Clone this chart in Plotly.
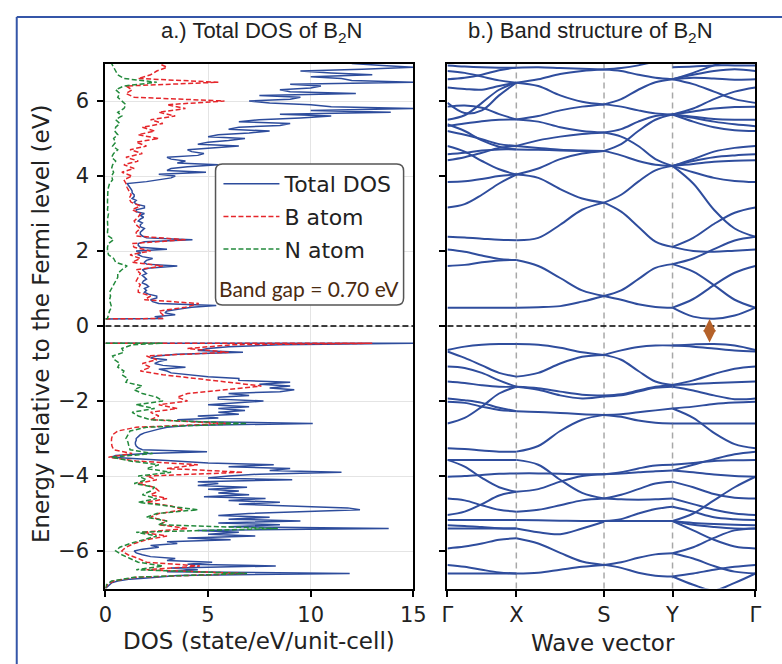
import numpy as np
import plotly.graph_objects as go

# ---------------- DOS data (state/eV/unit-cell) ----------------
# Total DOS, valence band: -7.00 ... -0.50 eV (step 0.05)
TOTAL_VB = [0.0, 0.1, 0.2, 0.3, 0.6, 1.2, 2.5, 3.5, 11.9, 3.0,
            4.5, 3.2, 8.3, 4.0, 5.2, 3.0, 3.4, 2.2, 1.8, 1.5,
            1.4, 1.8, 2.6, 2.2, 3.5, 3.0, 6.1, 4.0, 7.3, 5.0,
            6.5, 4.5, 13.8, 6.0, 8.5, 5.5, 9.5, 6.0, 8.0, 5.5,
            7.0, 9.5, 12.4, 11.8, 9.4, 6.5, 8.5, 6.0, 7.8, 4.8,
            7.0, 5.5, 6.5, 5.0, 6.9, 4.5, 5.5, 4.5, 9.1, 5.0,
            6.0, 7.5, 11.5, 8.0, 9.0, 6.0, 8.2, 5.0, 3.4, 1.5,
            0.3, 0.5, 2.0, 4.95, 1.8, 1.6, 1.5, 1.46, 1.46, 1.5,
            1.5, 1.6, 1.7, 1.9, 2.2, 2.6, 3.0, 4.0, 10.1, 4.5,
            3.5, 5.5, 4.5, 6.5, 5.5, 6.8, 5.5, 7.0, 5.0, 6.5,
            7.7, 5.5, 5.5, 7.0, 6.0, 8.5, 9.2, 8.0, 9.0, 7.5,
            9.0, 6.5, 6.5, 5.0, 4.0, 3.2, 3.0, 2.6, 3.9, 2.8,
            2.4, 2.6, 3.0, 2.2, 2.5, 3.5, 6.7, 4.5, 5.0, 6.0,
            8.5]
# B and N projections, valence band: -7.0 ... -0.5 eV (step 0.1)
B_VB = [0.0, 0.1, 0.4, 1.5, 6.8, 2.0, 4.6, 2.0, 1.6, 1.1,
        0.8, 1.0, 1.4, 2.0, 3.0, 1.8, 4.0, 2.6, 3.0, 2.2,
        2.6, 3.8, 3.2, 2.0, 3.0, 2.2, 2.6, 2.4, 1.6, 2.5,
        2.0, 6.7, 3.0, 4.5, 1.5, 0.15, 1.3, 0.4, 0.32, 0.29,
        0.3, 0.35, 0.6, 1.5, 6.0, 2.2, 2.6, 2.2, 3.5, 2.6,
        4.0, 3.5, 4.0, 6.0, 7.6, 6.0, 4.5, 2.8, 1.7, 2.2,
        1.8, 2.5, 2.0, 6.0, 4.0, 6.2]
N_VB = [0.0, 0.05, 0.3, 1.4, 6.9, 1.5, 2.8, 1.6, 1.2, 0.8,
        0.5, 0.7, 1.2, 1.8, 2.5, 1.5, 8.4, 2.6, 3.0, 2.0,
        2.5, 4.5, 3.0, 1.6, 2.5, 1.8, 2.2, 2.4, 1.4, 2.0,
        1.6, 3.2, 2.0, 2.6, 1.2, 0.3, 2.3, 1.2, 1.14, 1.1,
        1.0, 1.1, 1.2, 2.0, 6.9, 2.2, 1.6, 1.3, 2.4, 1.5,
        2.8, 2.5, 1.8, 1.4, 1.8, 1.0, 1.1, 0.8, 0.9, 0.6,
        0.7, 0.45, 0.35, 0.9, 0.8, 1.3]
VB_EDGE = -0.46
TOTAL_VB_EDGE, B_VB_EDGE, N_VB_EDGE = 15.0, 13.0, 2.8

# Total DOS, conduction band: 0.20 ... 7.00 eV (step 0.05)
TOTAL_CB = [2.8, 2.4, 3.4, 2.9, 3.0, 3.6, 4.2, 5.4, 2.6, 2.3,
            2.2, 2.5, 2.5, 2.1, 1.9, 2.0, 1.9, 2.1, 2.0, 1.8,
            1.85, 2.0, 1.9, 1.8, 2.0, 1.9, 1.8, 2.2, 3.5, 2.0,
            1.9, 2.0, 2.3, 1.8, 1.6, 1.7, 1.5, 3.0, 1.7, 1.6,
            1.6, 1.9, 4.24, 2.0, 1.8, 1.7, 1.7, 1.8, 1.9, 1.7,
            1.7, 1.8, 1.6, 1.7, 1.86, 1.7, 1.9, 1.5, 1.5, 1.9,
            1.9, 1.5, 1.4, 1.5, 1.3, 1.4, 1.4, 1.3, 1.3, 1.25,
            1.2, 1.15, 1.06, 2.0, 2.7, 3.2, 3.4, 2.6, 4.9, 3.0,
            3.2, 4.0, 5.5, 3.5, 3.9, 3.2, 3.0, 4.5, 4.8, 4.2,
            4.0, 5.5, 6.5, 4.5, 5.0, 6.0, 6.8, 5.0, 5.5, 7.0,
            8.0, 6.0, 6.5, 8.5, 9.0, 6.5, 7.5, 9.5, 11.0, 8.5,
            13.9, 10.0, 15.0, 11.0, 10.0, 8.0, 7.0, 9.0, 9.5, 7.5,
            12.2, 9.0, 8.5, 10.0, 10.5, 9.0, 15.0, 12.0, 11.5, 10.0,
            13.0, 11.0, 9.5, 12.5, 15.0, 13.5, 12.0]
# B and N projections, conduction band: 0.2 ... 7.0 eV (step 0.1)
B_CB = [2.8, 2.8, 2.6, 3.9, 4.55, 1.9, 2.2, 1.6, 1.6, 1.7,
        1.5, 1.6, 1.7, 1.5, 2.8, 1.3, 1.7, 1.2, 2.2, 1.4,
        1.3, 3.9, 1.5, 1.5, 1.7, 1.5, 1.4, 1.6, 1.7, 1.3,
        1.7, 1.25, 1.15, 1.25, 1.15, 1.05, 1.0, 0.9, 1.3, 0.8,
        1.4, 0.9, 1.6, 1.0, 1.8, 1.2, 2.0, 1.5, 2.6, 1.6,
        2.4, 1.8, 2.8, 2.2, 3.4, 2.6, 3.9, 3.0, 5.8, 1.4,
        1.0, 1.3, 1.0, 5.5, 1.6, 2.2, 2.5, 3.0, 2.6]
N_CB = [0.1, 0.15, 0.2, 0.3, 0.25, 0.2, 0.25, 0.2, 0.3, 0.4,
        0.5, 0.6, 0.6, 0.8, 1.06, 0.5, 0.4, 0.15, 0.1, 0.1,
        0.15, 0.4, 0.15, 0.1, 0.12, 0.1, 0.1, 0.12, 0.15, 0.1,
        0.12, 0.1, 0.1, 0.1, 0.12, 0.15, 0.2, 0.35, 0.3, 0.4,
        0.3, 0.35, 0.5, 0.3, 0.4, 0.6, 0.35, 0.5, 0.4, 0.6,
        0.45, 0.5, 0.7, 0.5, 0.8, 0.6, 0.9, 1.0, 0.8, 0.6,
        0.7, 0.5, 0.9, 2.5, 0.9, 0.6, 0.5, 0.4, 0.3]
CB_EDGE = 0.19

# ---------------- band structure data (eV) ----------------
K_POINTS = [0.0, 0.707, 1.607, 2.310, 3.160]
K_LABELS = ["Γ", "X", "S", "Y", "Γ"]

BANDS_GX = [
    [0.49, 0.49, 0.49], [1.60, 1.63, 1.70, 1.75, 1.76], [2.04, 1.98, 1.88, 1.79, 1.76],
    [2.38, 2.36, 2.33, 2.30, 2.29], [3.16, 3.25, 3.50, 3.80, 4.04], [3.84, 3.86, 3.92, 4.00, 4.04],
    [4.80, 4.65, 4.40, 4.18, 4.04], [4.58, 4.62, 4.68, 4.71, 4.71], [4.42, 4.50, 4.62, 4.75, 4.80],
    [5.20, 5.10, 4.98, 4.85, 4.80], [5.33, 5.40, 5.46, 5.50, 5.51], [5.38, 5.20, 4.95, 4.78, 4.71],
    [5.50, 5.62, 5.95, 6.30, 6.49], [5.95, 5.68, 5.75, 6.15, 6.49], [5.85, 5.88, 5.82, 5.65, 5.51],
    [6.36, 6.32, 6.30, 6.40, 6.49], [6.58, 6.62, 6.70, 6.82, 6.89], [6.80, 6.75, 6.65, 6.55, 6.49],
    [6.95, 6.92, 6.90, 6.89, 6.89],
    [-0.64, -0.55, -0.50, -0.48, -0.48], [-0.68, -0.85, -1.05, -1.25, -1.35],
    [-1.08, -1.12, -1.25, -1.45, -1.62], [-1.48, -1.52, -1.58, -1.62, -1.62],
    [-1.93, -1.98, -2.05, -2.18, -2.27], [-2.60, -2.45, -2.15, -1.80, -1.62],
    [-2.02, -2.05, -2.15, -2.24, -2.27], [-3.26, -3.28, -3.32, -3.35, -3.35],
    [-3.57, -3.57, -3.57], [-3.57, -3.75, -4.05, -4.30, -4.42], [-4.02, -4.00, -3.97, -3.94, -3.93],
    [-4.60, -4.65, -4.78, -4.90, -4.95], [-5.04, -4.95, -4.75, -4.52, -4.42], [-5.17, -5.17, -5.17],
    [-5.31, -5.33, -5.36, -5.39, -5.40], [-5.40, -5.40, -5.40], [-5.93, -5.88, -5.80, -5.70, -5.66],
    [-6.37, -6.42, -6.50, -6.57, -6.60], [-6.60, -6.60, -6.60],
]
BANDS_XS = [
    [0.49, 0.50, 0.53, 0.65, 0.80], [1.76, 1.60, 1.28, 0.95, 0.80], [2.29, 2.35, 2.70, 3.10, 3.29],
    [4.04, 3.95, 3.65, 3.40, 3.29], [4.71, 4.70, 4.68, 4.67, 4.67], [4.80, 4.95, 5.05, 5.12, 5.16],
    [4.80, 4.75, 4.70, 4.68, 4.67], [5.51, 5.45, 5.30, 5.20, 5.16], [5.51, 5.60, 5.75, 5.85, 5.91],
    [6.49, 6.40, 6.15, 5.98, 5.91], [6.49, 6.58, 6.72, 6.80, 6.84], [6.89, 6.90, 6.88, 6.86, 6.84],
    [4.04, 4.20, 4.45, 4.60, 4.67],
    [-0.48, -0.50, -0.58, -0.70, -0.77], [-1.35, -1.25, -1.00, -0.82, -0.77],
    [-1.62, -1.66, -1.75, -1.83, -1.85], [-1.62, -1.70, -1.85, -1.93, -1.88],
    [-2.27, -2.29, -2.32, -2.35, -2.37], [-3.35, -3.20, -2.80, -2.50, -2.37],
    [-3.57, -3.70, -4.10, -4.45, -4.60], [-3.93, -3.93, -3.94, -3.95, -3.95],
    [-4.42, -4.35, -4.15, -4.00, -3.95], [-4.95, -4.90, -4.78, -4.65, -4.60],
    [-5.17, -5.18, -5.19, -5.20, -5.20], [-5.40, -5.50, -5.55, -5.40, -5.22],
    [-5.66, -5.80, -6.05, -6.28, -6.37], [-6.60, -6.58, -6.50, -6.42, -6.37],
]
BANDS_SY = [
    [0.80, 0.70, 0.58, 0.51, 0.49], [0.80, 0.95, 1.25, 1.55, 1.65], [3.29, 3.05, 2.65, 2.25, 2.11],
    [3.29, 3.50, 3.85, 4.15, 4.27], [4.67, 4.55, 4.40, 4.30, 4.27], [4.67, 4.85, 5.20, 5.50, 5.64],
    [5.16, 5.05, 4.80, 4.45, 4.27], [5.16, 5.25, 5.45, 5.60, 5.64], [5.91, 5.85, 5.75, 5.67, 5.64],
    [5.91, 6.05, 6.30, 6.50, 6.58], [6.84, 6.80, 6.70, 6.62, 6.58], [6.84, 6.88, 6.95, 7.05, 7.10],
    [-0.77, -0.65, -0.56, -0.52, -0.52], [-0.77, -0.90, -1.20, -1.48, -1.57],
    [-1.85, -1.82, -1.72, -1.62, -1.57], [-1.88, -1.85, -1.75, -1.65, -1.62],
    [-2.37, -2.35, -2.30, -2.25, -2.20], [-2.37, -2.42, -2.52, -2.58, -2.60],
    [-3.95, -3.93, -3.90, -3.87, -3.85], [-3.95, -3.90, -3.80, -3.72, -3.70],
    [-4.60, -4.62, -4.63, -4.62, -4.60], [-4.60, -4.50, -4.35, -4.20, -4.15],
    [-5.20, -5.20, -5.20], [-5.20, -5.15, -5.00, -4.88, -4.82],
    [-6.37, -6.30, -6.18, -6.09, -6.06], [-6.37, -6.45, -6.58, -6.66, -6.68],
]
BANDS_YG = [
    [0.49, 0.25, 0.195, 0.28, 0.49], [0.49, 0.72, 1.09, 1.42, 1.60], [1.65, 1.45, 1.09, 0.70, 0.49],
    [1.65, 1.80, 2.05, 2.28, 2.38], [2.11, 2.00, 1.98, 2.01, 2.04], [2.11, 2.35, 2.72, 3.02, 3.16],
    [4.27, 3.80, 3.10, 2.60, 2.38], [4.27, 4.45, 4.65, 4.75, 4.80], [4.27, 4.40, 4.50, 4.55, 4.58],
    [4.27, 4.32, 4.38, 4.41, 4.42], [4.27, 4.10, 3.95, 3.87, 3.84],
    [5.64, 5.45, 5.30, 5.22, 5.20], [5.64, 5.55, 5.45, 5.38, 5.33], [5.64, 5.80, 6.05, 6.25, 6.36],
    [5.64, 5.72, 5.80, 5.84, 5.85], [5.64, 5.58, 5.52, 5.50, 5.50], [6.58, 6.45, 6.25, 6.05, 5.95],
    [6.58, 6.62, 6.60, 6.57, 6.58], [6.58, 6.70, 6.80, 6.85, 6.80], [6.58, 6.75, 6.95, 7.10, 7.20],
    [6.90, 6.92, 6.95, 6.95, 6.95],
    [-0.52, -0.49, -0.48, -0.52, -0.64], [-0.52, -0.55, -0.60, -0.65, -0.68],
    [-1.57, -1.45, -1.28, -1.14, -1.08], [-1.57, -1.55, -1.52, -1.50, -1.48],
    [-1.62, -1.72, -1.85, -1.95, -1.93], [-2.20, -2.15, -2.08, -2.04, -2.02],
    [-2.60, -2.60, -2.60], [-2.20, -2.45, -2.85, -3.15, -3.26],
    [-3.70, -3.65, -3.60, -3.58, -3.57], [-3.85, -3.90, -3.96, -4.00, -4.02],
    [-3.85, -3.70, -3.55, -3.42, -3.35],
    [-4.15, -4.30, -4.48, -4.58, -4.60], [-4.60, -4.75, -4.90, -5.00, -5.04],
    [-4.82, -4.95, -5.10, -5.15, -5.17], [-5.20, -5.00, -4.65, -4.30, -4.02],
    [-5.20, -5.25, -5.28, -5.30, -5.31], [-5.20, -5.30, -5.36, -5.40, -5.40],
    [-5.20, -5.45, -5.70, -5.88, -5.93], [-6.06, -5.90, -5.65, -5.45, -5.40],
    [-6.06, -6.20, -6.40, -6.55, -6.60], [-6.68, -6.60, -6.50, -6.42, -6.37],
    [-6.68, -6.90, -7.05, -6.85, -6.60],
]
GAP_K, VBM, CBM = 2.69, -0.48, 0.19
GAP_TEXT = "Band gap = 0.70 eV"

# ---------------- page geometry (reference pixel coords) ----------------
FW, FH = 782, 664


def px(x):
    return x / FW


def py(y):
    return 1 - y / FH


BLUE = "#2d4c9c"
RED = "#e5262b"
GREEN = "#238a3c"
BAND = "#2f4d9d"
TXT = "#222222"
TICKFONT = dict(family="DejaVu Sans", size=21, color=TXT)

fig = go.Figure()


def dos_trace(vb, vb_edge, cb, name, color, dash, group):
    e_vb = np.round(np.linspace(-7.0, -0.5, len(vb)), 3).tolist()
    e_cb = np.round(np.linspace(0.2, 7.0, len(cb)), 3).tolist()
    x = list(vb) + [vb_edge, 0.0, None, 0.0] + list(cb)
    y = e_vb + [VB_EDGE, VB_EDGE, None, CB_EDGE] + e_cb
    return go.Scatter(x=x, y=y, mode="lines", name=name, legendgroup=group,
                      line=dict(color=color, width=1.5, dash=dash),
                      xaxis="x", yaxis="y", connectgaps=False)


fig.add_trace(dos_trace(TOTAL_VB, TOTAL_VB_EDGE, TOTAL_CB, "Total DOS", BLUE, "solid", "g1"))
fig.add_trace(dos_trace(B_VB, B_VB_EDGE, B_CB, "B atom", RED, "5px,2.5px", "g2"))
fig.add_trace(dos_trace(N_VB, N_VB_EDGE, N_CB, "N atom", GREEN, "5px,2.5px", "g3"))

bx, by = [], []
for i, seg in enumerate([BANDS_GX, BANDS_XS, BANDS_SY, BANDS_YG]):
    ka, kb = K_POINTS[i], K_POINTS[i + 1]
    for curve in seg:
        bx += np.linspace(ka, kb, len(curve)).tolist() + [None]
        by += list(curve) + [None]
fig.add_trace(go.Scatter(x=bx, y=by, mode="lines", showlegend=False,
                         line=dict(color=BAND, width=2, shape="spline", smoothing=1.0),
                         xaxis="x2", yaxis="y2", connectgaps=False))

ydom = [py(588.5), py(63.5)]
common = dict(showline=True, linewidth=2, linecolor="black", mirror=True,
              ticks="outside", ticklen=6, tickwidth=1.5, tickcolor="black",
              zeroline=False, tickfont=TICKFONT)
fig.update_layout(
    width=FW, height=FH, margin=dict(l=0, r=0, t=0, b=0), autosize=False,
    paper_bgcolor="white", plot_bgcolor="white",
    xaxis=dict(domain=[px(101), px(417)], range=[0, 15], anchor="y", ticklabelstandoff=0,
               tickvals=[0, 5, 10, 15], showgrid=True, gridcolor="#e4e4e4", gridwidth=1, **common),
    yaxis=dict(domain=ydom, range=[-7, 7], anchor="x", ticklabelstandoff=4,
               tickvals=[-6, -4, -2, 0, 2, 4, 6], showgrid=True, gridcolor="#e4e4e4", gridwidth=1, **common),
    xaxis2=dict(domain=[px(452), px(768)], range=[K_POINTS[0], K_POINTS[-1]], anchor="y2",
                ticklabelstandoff=0, tickvals=K_POINTS, ticktext=K_LABELS, showgrid=False, **common),
    yaxis2=dict(domain=ydom, range=[-7, 7], anchor="x2",
                tickvals=[-6, -4, -2, 0, 2, 4, 6], showticklabels=False, showgrid=False, **common),
    legend=dict(x=px(217), y=py(163), xanchor="left", yanchor="top",
                bgcolor="rgba(0,0,0,0)", borderwidth=0, tracegroupgap=1, itemwidth=56,
                font=dict(family="DejaVu Sans", size=22, color=TXT)),
)

# legend box with rounded corners
x0, x1, y0, y1, r = 214, 407, 164, 305, 7
path = (f"M {px(x0 + r)},{py(y0)} L {px(x1 - r)},{py(y0)} Q {px(x1)},{py(y0)} {px(x1)},{py(y0 + r)} "
        f"L {px(x1)},{py(y1 - r)} Q {px(x1)},{py(y1)} {px(x1 - r)},{py(y1)} "
        f"L {px(x0 + r)},{py(y1)} Q {px(x0)},{py(y1)} {px(x0)},{py(y1 - r)} "
        f"L {px(x0)},{py(y0 + r)} Q {px(x0)},{py(y0)} {px(x0 + r)},{py(y0)} Z")
shapes = [
    dict(type="path", path=path, xref="paper", yref="paper", fillcolor="white",
         line=dict(color="#555555", width=1.5), layer="above"),
    dict(type="line", xref="x domain", yref="y", x0=0, x1=1, y0=0, y1=0,
         line=dict(color="black", width=1.5, dash="6px,3px"), layer="above"),
    dict(type="line", xref="x2 domain", yref="y2", x0=0, x1=1, y0=0, y1=0,
         line=dict(color="black", width=1.5, dash="6px,3px"), layer="above"),
    # figure frame (blue)
    dict(type="line", xref="paper", yref="paper", x0=px(10), x1=px(10), y0=-0.02, y1=py(17),
         line=dict(color="#3556a8", width=2)),
    dict(type="line", xref="paper", yref="paper", x0=px(10), x1=1.02, y0=py(17), y1=py(17),
         line=dict(color="#3556a8", width=2)),
]
for k in K_POINTS[1:-1]:
    shapes.append(dict(type="line", xref="x2", yref="y2 domain", x0=k, x1=k, y0=0, y1=1,
                       line=dict(color="#a8a8a8", width=1.5, dash="6px,4px"), layer="below"))
fig.update_layout(shapes=shapes)


def label(text, x, y, size, family="DejaVu Sans", color=TXT, angle=0):
    return dict(text=text, x=px(x), y=py(y), xref="paper", yref="paper", xanchor="center",
                yanchor="middle", textangle=angle, showarrow=False,
                font=dict(family=family, size=size, color=color))


annotations = [
    label("a.) Total DOS of B<sub>2</sub>N", 261, 32, 22, family="Liberation Sans"),
    label("b.) Band structure of B<sub>2</sub>N", 599, 32, 22, family="Liberation Sans"),
    label("Energy relative to the Fermi level (eV)", 35, 324, 23, angle=-90),
    label("DOS (state/eV/unit-cell)", 259, 641, 23),
    label("Wave vector", 612, 643, 23),
    label(GAP_TEXT, 309.5, 288, 21, family="Lato", color="#4a2a10"),
    dict(text="", x=GAP_K, y=CBM, ax=GAP_K, ay=VBM, xref="x2", yref="y2", axref="x2", ayref="y2",
         showarrow=True, arrowside="end+start", arrowhead=2, arrowsize=1.0, arrowwidth=2.5,
         arrowcolor="#b5622a"),
]
fig.update_layout(annotations=annotations)

# remove the default page margin so the 782x664 figure fills the window exactly
fig.write_html("out.html", config={"responsive": False, "displayModeBar": False},
               post_script="document.body.style.margin='0';document.body.style.overflow='hidden';")
